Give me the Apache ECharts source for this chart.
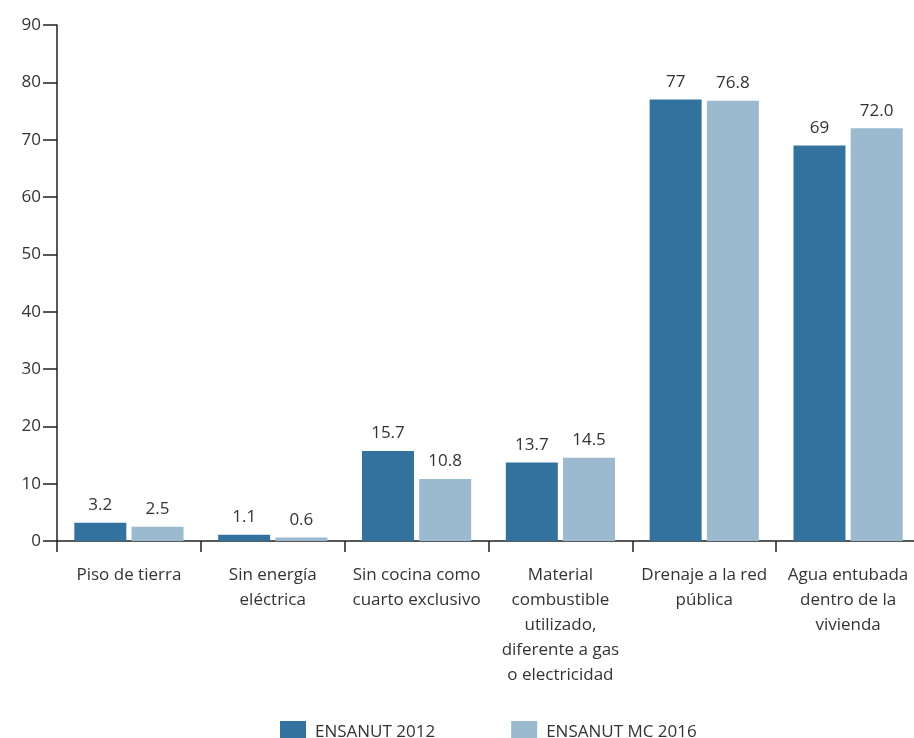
<!DOCTYPE html>
<html><head><meta charset="utf-8">
<script src="https://cdn.jsdelivr.net/npm/echarts@6/dist/echarts.min.js"></script>
<style>html,body{margin:0;padding:0;background:#fff;overflow:hidden}#c{width:920px;height:738px}</style>
</head><body><div id="c"></div>
<script>
var categories = ["Piso de tierra","Sin energía\neléctrica","Sin cocina como\ncuarto exclusivo","Material\ncombustible\nutilizado,\ndiferente a gas\no electricidad","Drenaje a la red\npública","Agua entubada\ndentro de la\nvivienda"];
var s2012 = [3.2, 1.1, 15.7, 13.7, 77, 69];
var s2016 = [2.5, 0.6, 10.8, 14.5, 76.8, 72.0];
var labels2012 = ["3.2","1.1","15.7","13.7","77","69"];
var labels2016 = ["2.5","0.6","10.8","14.5","76.8","72.0"];
var yTicks = [0,10,20,30,40,50,60,70,80,90];

var font = "'Open Sans', 'Noto Sans', sans-serif";
var chart = echarts.init(document.getElementById('c'), null, {renderer:'canvas'});
function lab(arr){
  return {show:true, position:'top', distance:9, color:'#333', fontSize:17, fontFamily:font,
    formatter:function(p){return arr[p.dataIndex];}};
}
chart.setOption({
  animation:false,
  legend:{
    data:["ENSANUT 2012","ENSANUT MC 2016"],
    left:275, top:716, itemWidth:26, itemHeight:22, itemGap:76,
    icon:'rect',
    textStyle:{color:'#333', fontSize:17, fontFamily:font, padding:[0,0,0,4]}
  },
  grid:{left:57, right:0, top:25, height:516, containLabel:false},
  xAxis:{
    type:'category', data:categories,
    axisLine:{lineStyle:{color:'#222', width:1.5}},
    axisTick:{show:true, length:11, lineStyle:{color:'#222', width:1.5}},
    axisLabel:{color:'#333', fontSize:17, fontFamily:font, lineHeight:25, margin:22, interval:0}
  },
  yAxis:{
    type:'value', min:0, max:90, interval:10,
    axisLine:{show:true, lineStyle:{color:'#222', width:1.5}},
    axisTick:{show:true, length:14, lineStyle:{color:'#222', width:1.5}},
    splitLine:{show:false},
    axisLabel:{color:'#333', fontSize:17, fontFamily:font, margin:16,
      formatter:function(v){return yTicks.indexOf(v)>=0 ? String(v) : '';}}
  },
  series:[
    {name:"ENSANUT 2012", type:'bar', data:s2012, barWidth:52, barGap:'10%',
     itemStyle:{color:'#33729e'}, label:lab(labels2012)},
    {name:"ENSANUT MC 2016", type:'bar', data:s2016, barWidth:52,
     itemStyle:{color:'#9bbad0'}, label:lab(labels2016)}
  ]
});
</script></body></html>
